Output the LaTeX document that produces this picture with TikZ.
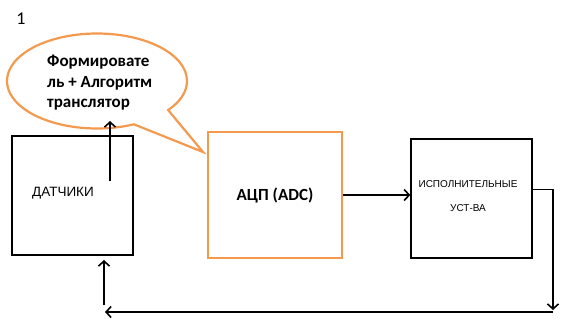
\documentclass[tikz,border=0pt]{standalone}
\usepackage{fontspec}
\setmainfont{Carlito}
\newfontfamily\arialfont{Liberation Sans}
\usepackage{xcolor}
\usepackage{tikz}
\usetikzlibrary{shapes,shapes.callouts,arrows,arrows.meta,positioning}
\definecolor{boxorange}{HTML}{F39A4E}

\begin{document}
\begin{tikzpicture}[x=1pt, y=-1pt,
    box/.style={rectangle, draw, line width=1.5pt, minimum width=121pt, minimum height=119pt},
    obox/.style={rectangle, draw=boxorange, line width=2.2pt, minimum width=134pt, minimum height=126pt},
    txt/.style={font=\arialfont\fontsize{11}{13}\selectfont, inner sep=0pt},
    btxt/.style={font=\bfseries\fontsize{17}{20}\selectfont, inner sep=0pt, anchor=base west},
    arrow/.style={-{Straight Barb[length=5pt,width=11pt]}, line width=1.6pt}
]
    \useasboundingbox (0,0) rectangle (566,322);

    % Number
    \node[font=\fontsize{18}{20}\selectfont, inner sep=0pt] (num) at (21,19) {1};

    % Blocks
    \node[box] (sensors) at (72.5,195.5) {};
    \node[txt, font=\arialfont\fontsize{13.5}{15}\selectfont] (sensorstext) at (63,193) {ДАТЧИКИ};
    \node[obox, font=\bfseries\fontsize{17}{19}\selectfont] (adc) at (275,195) {АЦП (ADC)};
    \node[box] (act) at (471.5,198.5) {};
    \node[txt, font=\arialfont\fontsize{10}{12}\selectfont] (acttop) at (468,184) {ИСПОЛНИТЕЛЬНЫЕ};
    \node[txt, font=\arialfont\fontsize{10}{12}\selectfont] (actbot) at (468,208) {УСТ-ВА};

    % Callout
    \coordinate (tailtip) at (203,152);
    \node[ellipse callout, draw=boxorange, line width=2.2pt, fill=white,
          minimum width=180pt, minimum height=95pt, inner sep=0pt,
          callout absolute pointer={(tailtip)}, callout pointer arc=28] (callout) at (97,81) {};
    \node[btxt] (calloutone) at (47,66.5) {Формировате};
    \node[btxt] (callouttwo) at (47,87) {ль + Алгоритм};
    \node[btxt] (calloutthree) at (47,107.5) {транслятор};

    % Connector points
    \coordinate (up) at (110,181);
    \coordinate (uptip) at (110,121);
    \coordinate (corner) at (553,310);
    \coordinate (br) at (553,312);
    \coordinate (bl) at (105,312);
    \coordinate (back) at (104,305);
    \coordinate (backtip) at (104,260);

    % Arrows
    \draw[arrow] (up) -- (uptip);
    \draw[arrow] (adc.east) -- (adc.east -| act.west);
    \draw[arrow] ([yshift=9pt]act.east) -| (corner);
    \draw[arrow] (br) -- (bl);
    \draw[arrow] (back) -- (backtip);

\end{tikzpicture}
\end{document}
